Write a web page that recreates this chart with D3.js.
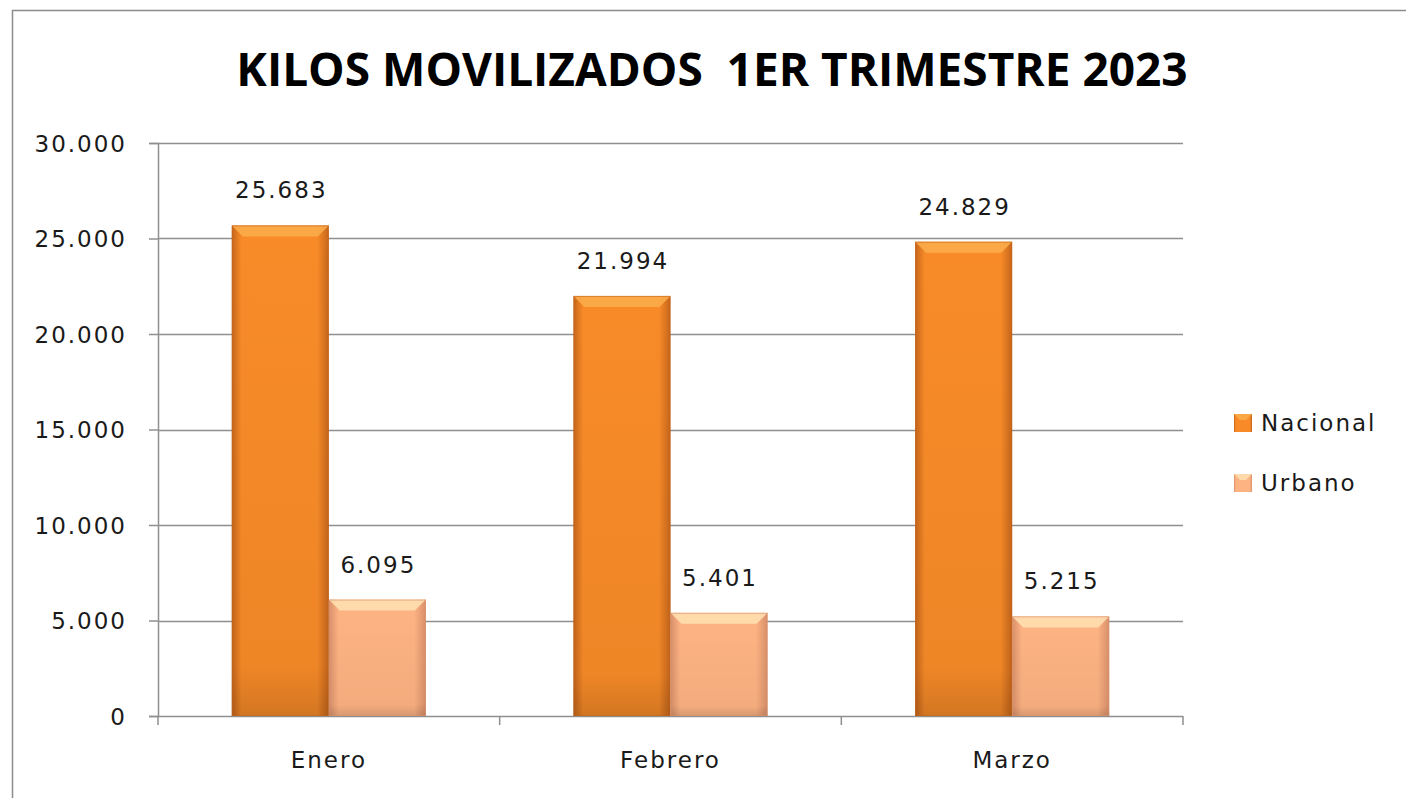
<!DOCTYPE html>
<html>
<head>
<meta charset="utf-8">
<script src="https://cdn.jsdelivr.net/npm/d3@7"></script>
<style>
  body { margin: 0; background: #fff; }
  svg text { font-family: "DejaVu Sans", sans-serif; fill: #1a1a1a; }
</style>
</head>
<body>
<div id="chart"></div>
<script>
const width = 1406;
const height = 798;
const margin = { top: 143, right: 223, bottom: 82, left: 158 };

const months = ['Enero', 'Febrero', 'Marzo'];
const series = ['Nacional', 'Urbano'];
const nacional = [25683, 21994, 24829];
const urbano = [6095, 5401, 5215];
const yTicks = [0, 5000, 10000, 15000, 20000, 25000, 30000];

const colors = {
  Nacional: { mid: '#f88b28', edge: '#c5651b', top: '#fcae4c' },
  Urbano: { mid: '#feb383', edge: '#d9906a', top: '#ffe2b4' }
};

const fmt = d3.formatLocale({ decimal: ',', thousands: '.', grouping: [3], currency: ['', ''] }).format(',d');

const data = months.map((m, i) => ({ month: m, Nacional: nacional[i], Urbano: urbano[i] }));

const svg = d3.select('#chart')
  .append('svg')
  .attr('width', width)
  .attr('height', height);

const defs = svg.append('defs');
series.forEach(s => {
  const g = defs.append('linearGradient')
    .attr('id', 'grad-' + s)
    .attr('x1', '0').attr('x2', '1').attr('y1', '0').attr('y2', '0');
  g.append('stop').attr('offset', '0%').attr('stop-color', colors[s].edge);
  g.append('stop').attr('offset', '10%').attr('stop-color', colors[s].mid);
  g.append('stop').attr('offset', '88%').attr('stop-color', colors[s].mid);
  g.append('stop').attr('offset', '100%').attr('stop-color', colors[s].edge);
  const v = defs.append('linearGradient')
    .attr('id', 'vgrad-' + s)
    .attr('x1', '0').attr('x2', '0').attr('y1', '0').attr('y2', '1');
  v.append('stop').attr('offset', '0%').attr('stop-color', '#000').attr('stop-opacity', 0);
  v.append('stop').attr('offset', '90%').attr('stop-color', '#000').attr('stop-opacity', 0.04);
  v.append('stop').attr('offset', '100%').attr('stop-color', '#000').attr('stop-opacity', 0.15);
});

// chart frame
svg.append('rect')
  .attr('x', 12.5).attr('y', 10.5)
  .attr('width', width + 10).attr('height', height + 10)
  .attr('fill', 'none')
  .attr('stroke', '#8c8c8c')
  .attr('stroke-width', 1.5);

svg.append('text')
  .attr('x', 712)
  .attr('y', 86)
  .attr('text-anchor', 'middle')
  .attr('xml:space', 'preserve')
  .style('font-family', '"Open Sans", sans-serif')
  .style('font-weight', 'bold')
  .style('font-size', '46px')
  .style('fill', '#000')
  .text('KILOS MOVILIZADOS  1ER TRIMESTRE 2023');

const x = d3.scaleBand()
  .domain(months)
  .range([margin.left, width - margin.right])
  .paddingInner(0)
  .paddingOuter(0);

const xInner = d3.scaleBand()
  .domain(series)
  .range([0, x.bandwidth()])
  .paddingOuter(0.76)
  .paddingInner(0);

const y = d3.scaleLinear()
  .domain([0, 30000])
  .range([height - margin.bottom, margin.top]);

const labelStyle = sel => sel
  .style('font-size', '23px')
  .style('letter-spacing', '2px');

// gridlines
svg.append('g')
  .selectAll('line')
  .data(yTicks.filter(d => d > 0))
  .join('line')
  .attr('x1', margin.left)
  .attr('x2', width - margin.right)
  .attr('y1', d => Math.round(y(d)) + 0.5)
  .attr('y2', d => Math.round(y(d)) + 0.5)
  .attr('stroke', '#8f8f8f')
  .attr('stroke-width', 1.5);

// y axis
const yAxis = svg.append('g')
  .attr('transform', `translate(${margin.left},0)`)
  .call(d3.axisLeft(y).tickValues(yTicks).tickFormat(fmt).tickSize(9).tickPadding(22));
yAxis.select('.domain').attr('stroke', '#8f8f8f').attr('stroke-width', 1.5);
yAxis.selectAll('.tick line').attr('stroke', '#8f8f8f').attr('stroke-width', 1.5);
yAxis.selectAll('.tick text').call(labelStyle).attr('dy', '0.36em');

// x axis
const xAxisG = svg.append('g')
  .attr('transform', `translate(0,${height - margin.bottom})`);
xAxisG.append('line')
  .attr('x1', margin.left).attr('x2', width - margin.right)
  .attr('y1', 0.5).attr('y2', 0.5)
  .attr('stroke', '#8f8f8f').attr('stroke-width', 1.5);
xAxisG.selectAll('line.tk')
  .data(d3.range(months.length + 1))
  .join('line')
  .attr('class', 'tk')
  .attr('x1', i => margin.left + i * x.step())
  .attr('x2', i => margin.left + i * x.step())
  .attr('y1', 0).attr('y2', 9)
  .attr('stroke', '#8f8f8f').attr('stroke-width', 1.5);
xAxisG.selectAll('text')
  .data(months)
  .join('text')
  .attr('x', d => x(d) + x.bandwidth() / 2)
  .attr('y', 52)
  .attr('text-anchor', 'middle')
  .call(labelStyle)
  .text(d => d);

// bars
const groups = svg.append('g')
  .selectAll('g')
  .data(data)
  .join('g')
  .attr('transform', d => `translate(${x(d.month)},0)`);

series.forEach(s => {
  const bars = groups.append('g');
  const bw = xInner.bandwidth();
  bars.append('rect')
    .attr('x', xInner(s))
    .attr('y', d => y(d[s]))
    .attr('width', bw)
    .attr('height', d => y(0) - y(d[s]))
    .attr('fill', `url(#grad-${s})`);
  bars.append('rect')
    .attr('x', xInner(s))
    .attr('y', d => y(d[s]))
    .attr('width', bw)
    .attr('height', d => y(0) - y(d[s]))
    .attr('fill', `url(#vgrad-${s})`);
  // bevel top
  bars.append('polygon')
    .attr('points', d => {
      const x0 = xInner(s), x1 = x0 + bw, t = y(d[s]), b = 11;
      return `${x0},${t} ${x1},${t} ${x1 - b},${t + b} ${x0 + b},${t + b}`;
    })
    .attr('fill', colors[s].top)
    .attr('opacity', 0.85);
  bars.append('rect')
    .attr('x', xInner(s) + 0.5)
    .attr('y', d => y(d[s]) + 0.5)
    .attr('width', bw - 1)
    .attr('height', d => y(0) - y(d[s]) - 1)
    .attr('fill', 'none')
    .attr('stroke', colors[s].edge)
    .attr('stroke-opacity', 0.6);
  bars.append('text')
    .attr('x', xInner(s) + bw / 2 + 1)
    .attr('y', d => y(d[s]) - 27)
    .attr('text-anchor', 'middle')
    .call(labelStyle)
    .text(d => fmt(d[s]));
});

// legend
const legend = svg.append('g')
  .selectAll('g')
  .data(series)
  .join('g')
  .attr('transform', (d, i) => `translate(1234,${423 + i * 60})`);
legend.append('rect')
  .attr('x', 0).attr('y', -9)
  .attr('width', 18).attr('height', 18)
  .attr('fill', d => `url(#grad-${d})`);
legend.append('polygon')
  .attr('points', '0,-9 18,-9 12,-3 6,-3')
  .attr('fill', d => colors[d].top)
  .attr('opacity', 0.8);
legend.append('text')
  .attr('x', 27)
  .attr('y', 0)
  .attr('dy', '0.36em')
  .call(labelStyle)
  .text(d => d);
</script>
</body>
</html>
